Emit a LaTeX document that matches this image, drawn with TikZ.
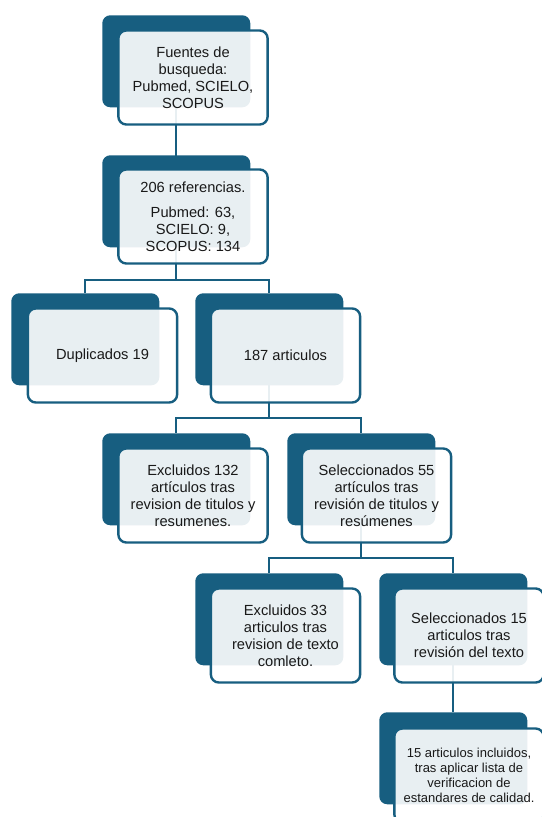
\documentclass[tikz,border=0pt]{standalone}
\usepackage{fontspec}
\setmainfont{Liberation Sans}
\definecolor{dblue}{RGB}{23,94,128}
\definecolor{txt}{RGB}{25,25,25}
\pgfdeclarelayer{connlayer}
\pgfsetlayers{connlayer,main}
\begin{document}
\begin{tikzpicture}[x=0.75pt,y=-0.75pt,
  backbox/.style={rectangle, rounded corners=6pt, fill=dblue, minimum width=111pt, minimum height=69pt, anchor=north west, inner sep=0pt},
  frontbox/.style={rectangle, rounded corners=6pt, fill=white, fill opacity=0.9, text opacity=1, draw=dblue, draw opacity=1, line width=1.8pt, minimum width=112pt, minimum height=70.5pt, anchor=center, inner sep=2pt, align=center, text=txt, font=\fontsize{11}{12.7}\selectfont},
  smalltext/.style={font=\fontsize{9.75}{11.1}\selectfont},
  conn/.style={draw=dblue, line width=1.5pt}]
\useasboundingbox (0,0) rectangle (542,817);
\clip (0,0) rectangle (542,817);
% back boxes
\node[backbox] (b1) at (102,15) {};
\node[backbox] (b2) at (102,155) {};
\node[backbox] (b3) at (11,293) {};
\node[backbox] (b4) at (195,293) {};
\node[backbox] (b5) at (102,433) {};
\node[backbox] (b6) at (287,433) {};
\node[backbox] (b7) at (195,573) {};
\node[backbox] (b8) at (379,573) {};
\node[backbox] (b9) at (379,712) {};
% front boxes
\node[frontbox] (f1) at (193,77.5) {Fuentes de\\busqueda:\\Pubmed, SCIELO,\\SCOPUS};
\node[frontbox] (f2) at (193,216.5) {206 referencias.\\[6.5pt]Pubmed: 63,\\SCIELO: 9,\\SCOPUS: 134};
\node[frontbox] (f3) at (102.5,355.5) {Duplicados 19};
\node[frontbox] (f4) at (285.5,355.5) {187 articulos};
\node[frontbox] (f5) at (193,495.5) {Excluidos 132\\artículos tras\\revision de titulos y\\resumenes.};
\node[frontbox] (f6) at (376.5,495.5) {Seleccionados 55\\artículos tras\\revisión de titulos y\\resúmenes};
\node[frontbox] (f7) at (285.5,635.5) {Excluidos 33\\articulos tras\\revision de texto\\comleto.};
\node[frontbox] (f8) at (469,635.5) {Seleccionados 15\\articulos tras\\revisión del texto};
\node[frontbox, smalltext] (f9) at (469,775.5) {15 articulos incluidos,\\tras aplicar lista de\\verificacion de\\estandares de calidad.};
% junction levels
\coordinate (j1) at (0,280);
\coordinate (j2) at (0,418);
\coordinate (j3) at (0,558);
% connectors, drawn behind the boxes
\begin{pgfonlayer}{connlayer}
\path[conn] (b1.center) -- (b2.center);
\path[conn] (b2.center) -- (b2.center |- j1) -| (b3.north);
\path[conn] (b2.center |- j1) -| (b4.north);
\path[conn] (b4.center) -- (b4.center |- j2) -| (b5.north);
\path[conn] (b4.center |- j2) -| (b6.north);
\path[conn] (b6.center) -- (b6.center |- j3) -| (b7.north);
\path[conn] (b6.center |- j3) -| (b8.north);
\path[conn] (b8.center) -- (b9.north);
\end{pgfonlayer}
\end{tikzpicture}
\end{document}
